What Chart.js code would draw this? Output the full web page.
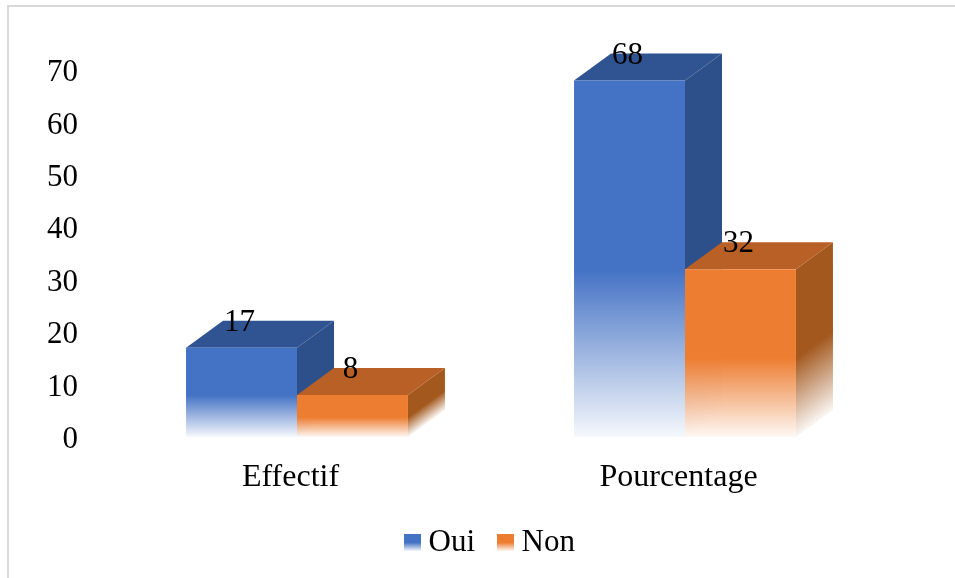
<!DOCTYPE html>
<html lang="fr">
<head>
<meta charset="UTF-8">
<title>Effectif et pourcentage</title>
<script src="https://cdn.jsdelivr.net/npm/chart.js"></script>
<style>
    html, body { margin: 0; background: #fff; overflow: hidden; }
    #frame {
        position: absolute; left: 7px; top: 5px; right: 0; bottom: 0;
        border-left: 2px solid #d9d9d9; border-top: 2px solid #d9d9d9;
    }
    canvas { position: absolute; left: 0; top: 0; }
</style>
</head>
<body>
<div id="frame"></div>
<canvas id="chart" width="955" height="578"></canvas>
<script>
const categories = ['Effectif', 'Pourcentage'];
const oui = [17, 68];
const non = [8, 32];
const yTicks = [0, 10, 20, 30, 40, 50, 60, 70];

const SERIF = '"Liberation Serif", "Times New Roman", serif';
const FONT_SIZE = 31;
// offset of the back edge of each block
const DEPTH_X = 37;
const DEPTH_Y = 27;
// share of the block height (from the floor) where the fade begins
const FADE_AT = 0.47;
// legend sits centred under the whole canvas, not under the plot
const LEGEND_DX = 54;
const LEGEND_DY = -10;

const palette = {
    Oui: { rgb: [68, 114, 196], side: [46, 80, 138], top: [48, 84, 146] },
    Non: { rgb: [237, 125, 49], side: [163, 88, 30], top: [184, 96, 38] }
};

function rgba(c, a) {
    return 'rgba(' + c[0] + ',' + c[1] + ',' + c[2] + ',' + a + ')';
}

function fadeStops(grad, c) {
    grad.addColorStop(0, rgba(c, 0.05));
    grad.addColorStop(FADE_AT, rgba(c, 1));
    grad.addColorStop(1, rgba(c, 1));
    return grad;
}

function frontFill(context) {
    const chart = context.chart;
    const c = palette[context.dataset.label].rgb;
    if (context.type !== 'data') return rgba(c, 1);
    const y = chart.scales.y;
    const top = y.getPixelForValue(context.raw);
    return fadeStops(chart.ctx.createLinearGradient(0, y.bottom, 0, top), c);
}

function swatch(c) {
    const cv = document.createElement('canvas');
    cv.width = 17;
    cv.height = 17;
    const g = cv.getContext('2d');
    const grad = g.createLinearGradient(0, 17, 0, 0);
    grad.addColorStop(0, rgba(c, 0.05));
    grad.addColorStop(0.5, rgba(c, 1));
    grad.addColorStop(1, rgba(c, 1));
    g.fillStyle = grad;
    g.fillRect(0, 0, 17, 17);
    return cv;
}

function poly(ctx, pts, fill) {
    ctx.beginPath();
    pts.forEach((p, i) => i ? ctx.lineTo(p[0], p[1]) : ctx.moveTo(p[0], p[1]));
    ctx.closePath();
    ctx.fillStyle = fill;
    ctx.fill();
}

// side and top faces go under the front faces the library paints
const blockFaces = {
    id: 'blockFaces',
    afterLayout(chart) {
        const legend = chart.legend;
        legend.left += LEGEND_DX;
        legend.right += LEGEND_DX;
        legend.top += LEGEND_DY;
        legend.bottom += LEGEND_DY;
    },
    beforeDatasetsDraw(chart) {
        const ctx = chart.ctx;
        ctx.save();
        chart.data.datasets.forEach((ds, d) => {
            const colors = palette[ds.label];
            chart.getDatasetMeta(d).data.forEach(bar => {
                const right = bar.x + bar.width / 2;
                const left = bar.x - bar.width / 2;
                const top = bar.y;
                const base = bar.base;
                // the fade of the side runs parallel to its slanted floor edge
                const k = (base - top) * DEPTH_X / (DEPTH_X * DEPTH_X + DEPTH_Y * DEPTH_Y);
                const grad = ctx.createLinearGradient(right, base, right - DEPTH_Y * k, base - DEPTH_X * k);
                poly(ctx, [[right, top], [right + DEPTH_X, top - DEPTH_Y], [right + DEPTH_X, base - DEPTH_Y], [right, base]],
                    fadeStops(grad, colors.side));
                poly(ctx, [[left, top], [left + DEPTH_X, top - DEPTH_Y], [right + DEPTH_X, top - DEPTH_Y], [right, top]],
                    rgba(colors.top, 1));
                // the neighbour's side only shows faintly through the faded front
                if (d === 1) {
                    poly(ctx, [[left, top], [right, top], [right, base], [left, base]], 'rgba(255,255,255,0.85)');
                }
            });
        });
        ctx.restore();
    },
    afterDatasetsDraw(chart) {
        const ctx = chart.ctx;
        ctx.save();
        ctx.font = FONT_SIZE + 'px ' + SERIF;
        ctx.fillStyle = '#000';
        ctx.textAlign = 'center';
        ctx.textBaseline = 'middle';
        chart.data.datasets.forEach((ds, d) => {
            chart.getDatasetMeta(d).data.forEach((bar, i) => {
                ctx.fillText(ds.data[i], bar.x - 2, bar.y - 25);
            });
        });
        ctx.restore();
    }
};

new Chart(document.getElementById('chart'), {
    type: 'bar',
    data: {
        labels: categories,
        datasets: [
            { label: 'Oui', data: oui, backgroundColor: frontFill, categoryPercentage: 0.572, barPercentage: 1 },
            { label: 'Non', data: non, backgroundColor: frontFill, categoryPercentage: 0.572, barPercentage: 1 }
        ]
    },
    plugins: [blockFaces],
    options: {
        responsive: false,
        animation: false,
        layout: { padding: { top: 70, right: 76, bottom: 0, left: 0 } },
        plugins: {
            tooltip: { enabled: false },
            legend: {
                position: 'bottom',
                onClick: null,
                labels: {
                    color: '#000',
                    font: { family: SERIF, size: FONT_SIZE },
                    usePointStyle: true,
                    pointStyleWidth: 1,
                    padding: 30,
                    generateLabels: chart => chart.data.datasets.map((ds, i) => ({
                        text: ds.label,
                        datasetIndex: i,
                        fontColor: '#000',
                        lineWidth: 0,
                        strokeStyle: 'transparent',
                        pointStyle: swatch(palette[ds.label].rgb)
                    }))
                }
            }
        },
        scales: {
            x: {
                grid: { display: false },
                border: { display: false },
                afterFit: s => { s.height = 70; },
                ticks: {
                    color: '#000',
                    font: { family: SERIF, size: 32 },
                    padding: 13,
                    labelOffset: -6.5,
                    maxRotation: 0
                }
            },
            y: {
                min: 0,
                max: 70,
                grid: { display: false },
                border: { display: false },
                afterFit: s => { s.width = 103; },
                afterBuildTicks: s => { s.ticks = yTicks.map(v => ({ value: v })); },
                ticks: {
                    color: '#000',
                    font: { family: SERIF, size: FONT_SIZE },
                    padding: 17,
                    labelOffset: 3
                }
            }
        }
    }
});
</script>
</body>
</html>
